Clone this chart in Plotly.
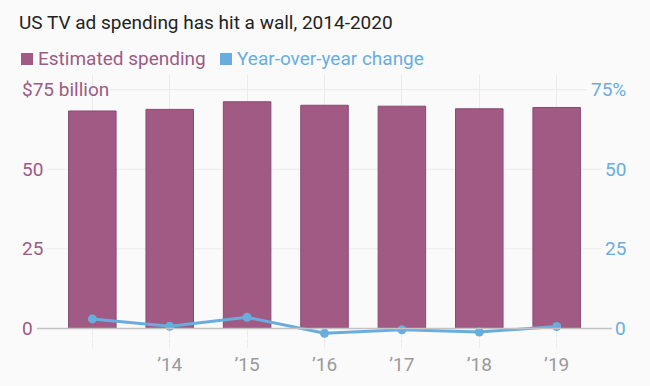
import plotly.graph_objects as go

# ---- data ----
categories = [2013, 2014, 2015, 2016, 2017, 2018, 2019]
tick_labels = ["", "\u201914", "\u201915", "\u201916", "\u201917", "\u201918", "\u201919"]
spending = [68.3, 68.8, 71.2, 70.1, 69.8, 69.0, 69.4]          # $ billion
yoy_change = [3.0, 0.7, 3.5, -1.5, -0.4, -1.1, 0.6]           # percent
left_ticks = [0, 25, 50, 75]
left_labels = ["0", "25", "50", "$75 billion"]
right_ticks = [0, 25, 50, 75]
right_labels = ["0", "25", "50", "75%"]

PURPLE = "#a05a83"
PURPLE_TXT = "#9c5a85"
BLUE = "#69addf"
FONT = "Roboto"
BG = "#fafafa"

x = list(range(len(categories)))
yr = [-3, 79.6]

fig = go.Figure()
fig.add_trace(go.Bar(x=x, y=spending, marker=dict(color=PURPLE, line=dict(color="#8a4a70", width=1)),
                     width=0.614, name="Estimated spending", showlegend=False))
fig.add_trace(go.Scatter(x=x, y=yoy_change, mode="lines+markers", yaxis="y2",
                         line=dict(color=BLUE, width=3), marker=dict(color=BLUE, size=9),
                         name="Year-over-year change", showlegend=False, cliponaxis=False))

shapes = []
annotations = []
# horizontal gridlines
grid_spans = {25: (0.0174, 0.9826), 50: (0.0174, 0.9826), 75: (0.127, 0.9565)}
for v, (a, b) in grid_spans.items():
    shapes.append(dict(type="line", xref="paper", yref="y", x0=a, x1=b, y0=v, y1=v,
                       line=dict(color="#ebebeb", width=1), layer="below"))
# baseline
shapes.append(dict(type="line", xref="paper", yref="y", x0=0, x1=1, y0=0, y1=0,
                   line=dict(color="#c4c4c4", width=1.5), layer="above"))

for v, t in zip(left_ticks, left_labels):
    annotations.append(dict(xref="paper", yref="y", x=-0.0296, y=v, text=t, showarrow=False,
                            xanchor="left", yanchor="middle", font=dict(family=FONT, size=19, color=PURPLE_TXT)))
for v, t in zip(right_ticks, right_labels):
    annotations.append(dict(xref="paper", yref="y", x=1.0278, y=v, text=t, showarrow=False,
                            xanchor="right", yanchor="middle", font=dict(family=FONT, size=19, color=BLUE)))

# legend (squares + text)
shapes.append(dict(type="rect", xref="paper", yref="paper", xsizemode="pixel", ysizemode="pixel",
                   xanchor=(21 - 37) / 575, yanchor=1.0, x0=0, x1=12, y0=(75 - 53), y1=(75 - 65),
                   fillcolor=PURPLE, line=dict(width=0)))
annotations.append(dict(xref="paper", yref="paper", x=(36 - 37) / 575, y=1.0, yshift=17, text="Estimated spending",
                        showarrow=False, xanchor="left", yanchor="middle",
                        font=dict(family=FONT, size=19, color=PURPLE_TXT)))
shapes.append(dict(type="rect", xref="paper", yref="paper", xsizemode="pixel", ysizemode="pixel",
                   xanchor=(220 - 37) / 575, yanchor=1.0, x0=0, x1=12, y0=(75 - 53), y1=(75 - 65),
                   fillcolor=BLUE, line=dict(width=0)))
annotations.append(dict(xref="paper", yref="paper", x=(235 - 37) / 575, y=1.0, yshift=17, text="Year-over-year change",
                        showarrow=False, xanchor="left", yanchor="middle",
                        font=dict(family=FONT, size=19, color=BLUE)))

fig.update_layout(
    width=650, height=386,
    margin=dict(l=37, r=38, t=75, b=386 - 75 - 263),
    paper_bgcolor=BG, plot_bgcolor=BG,
    title=dict(text="US TV ad spending has hit a wall, 2014-2020", x=19 / 650, xanchor="left",
               xref="container", yref="container", y=1 - 22 / 386, yanchor="middle",
               font=dict(family=FONT, size=19, color="#222222")),
    xaxis=dict(range=[-0.715, 6.715], tickmode="array", tickvals=x, ticktext=tick_labels,
               showgrid=True, gridcolor="#ebebeb", gridwidth=1, zeroline=False, showline=False,
               ticks="outside", ticklen=9, tickcolor="#ebebeb", automargin=False,
               tickfont=dict(family=FONT, size=19, color="#9a9a9a")),
    yaxis=dict(range=yr, showgrid=False, zeroline=False, showticklabels=False, showline=False,
               automargin=False),
    yaxis2=dict(range=yr, overlaying="y", side="right", showgrid=False, zeroline=False,
                showticklabels=False, showline=False, automargin=False),
    shapes=shapes, annotations=annotations, bargap=0.386, showlegend=False,
)
fig.write_html("out.html", config={"displayModeBar": False},
               post_script="document.body.style.margin='0';document.body.style.background='#fafafa';")
